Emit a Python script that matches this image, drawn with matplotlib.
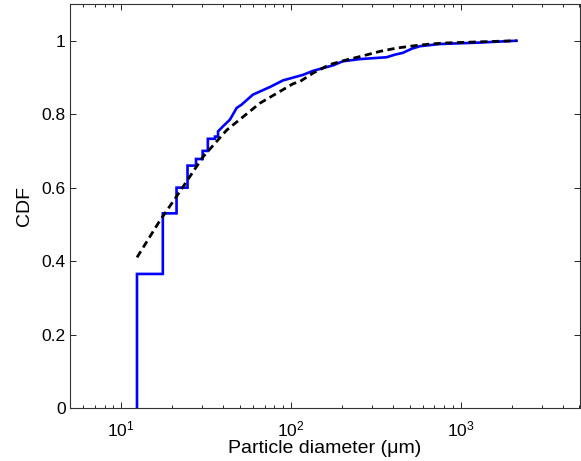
import numpy as np
import matplotlib
matplotlib.use("Agg")
import matplotlib.pyplot as plt
from matplotlib.ticker import LogLocator, NullFormatter

plt.rcParams['font.family'] = ['Liberation Sans', 'DejaVu Sans']
plt.rcParams['mathtext.fontset'] = 'custom'
plt.rcParams['mathtext.rm'] = 'Liberation Sans'
plt.rcParams['mathtext.it'] = 'Liberation Sans:italic'

# empirical CDF, read off the picture
# coarse steps at small diameters
step_d = [12.4, 17.6, 21.2, 24.6, 27.6, 30.2, 32.4, 35.7, 37.2]
step_cdf = [0.365, 0.53, 0.60, 0.66, 0.678, 0.70, 0.733, 0.739, 0.753]
# many tiny steps further on, drawn as a line
fine_d = [37.2, 39.8, 43.7, 47.9, 51.2, 59.6, 75.2, 89.8, 117.6, 135, 177,
          202, 255, 365, 409, 456, 513, 574, 752, 1294, 2128]
fine_cdf = [0.753, 0.767, 0.785, 0.817, 0.826, 0.853, 0.874, 0.892, 0.907,
            0.918, 0.933, 0.944, 0.95, 0.955, 0.962, 0.967, 0.978, 0.985,
            0.991, 0.995, 1.0]

# fitted CDF (dashed)
fit_d = [12.4, 16.9, 21.2, 30.5, 41.9, 65.7, 103, 113, 135, 169, 213, 266,
         334, 419, 525, 658, 824, 1294, 2128]
fit_cdf = [0.41, 0.51, 0.576, 0.685, 0.757, 0.83, 0.883, 0.889, 0.912, 0.935,
           0.948, 0.959, 0.971, 0.980, 0.986, 0.991, 0.994, 0.997, 1.0]

fig = plt.figure(figsize=(5.81, 4.61), dpi=100)
ax = fig.add_axes([70 / 581, 53 / 461, 509.5 / 581, 404 / 461])

# build the staircase by hand then append the fine part
xs, ys = [step_d[0]], [0.0]
for i, d in enumerate(step_d):
    if i > 0:
        xs.append(d)
        ys.append(step_cdf[i - 1])
    xs.append(d)
    ys.append(step_cdf[i])
xs += fine_d[1:]
ys += fine_cdf[1:]
ax.plot(xs, ys, color='#0000ff', lw=1.9, solid_joinstyle='miter')
ax.plot(fit_d, fit_cdf, color='black', lw=2.0, ls=(0, (2.6, 1.6)))

ax.set_xscale('log')
ax.set_xlim(5, 5000)
ax.set_ylim(0, 1.1)
ax.set_yticks([0, 0.2, 0.4, 0.6, 0.8, 1.0])
ax.set_yticklabels(['0', '0.2', '0.4', '0.6', '0.8', '1'])
ax.xaxis.set_major_locator(LogLocator(base=10, numticks=10))
ax.xaxis.set_minor_locator(LogLocator(base=10, subs=np.arange(2, 10), numticks=20))
ax.xaxis.set_minor_formatter(NullFormatter())

ax.tick_params(which='both', direction='in', top=True, right=True, labelsize=12.5)
ax.tick_params(which='major', length=4, width=0.6)
ax.tick_params(which='minor', length=2.5, width=0.6)
ax.tick_params(axis='x', which='major', pad=8)
ax.tick_params(axis='y', which='major', pad=3)
for s in ax.spines.values():
    s.set_linewidth(0.8)
    s.set_color('#333333')

ax.set_xlabel('Particle diameter (\u03bcm)', fontsize=14, labelpad=1)
ax.set_ylabel('CDF', fontsize=14, labelpad=6)

fig.savefig('out.png', dpi=100)
